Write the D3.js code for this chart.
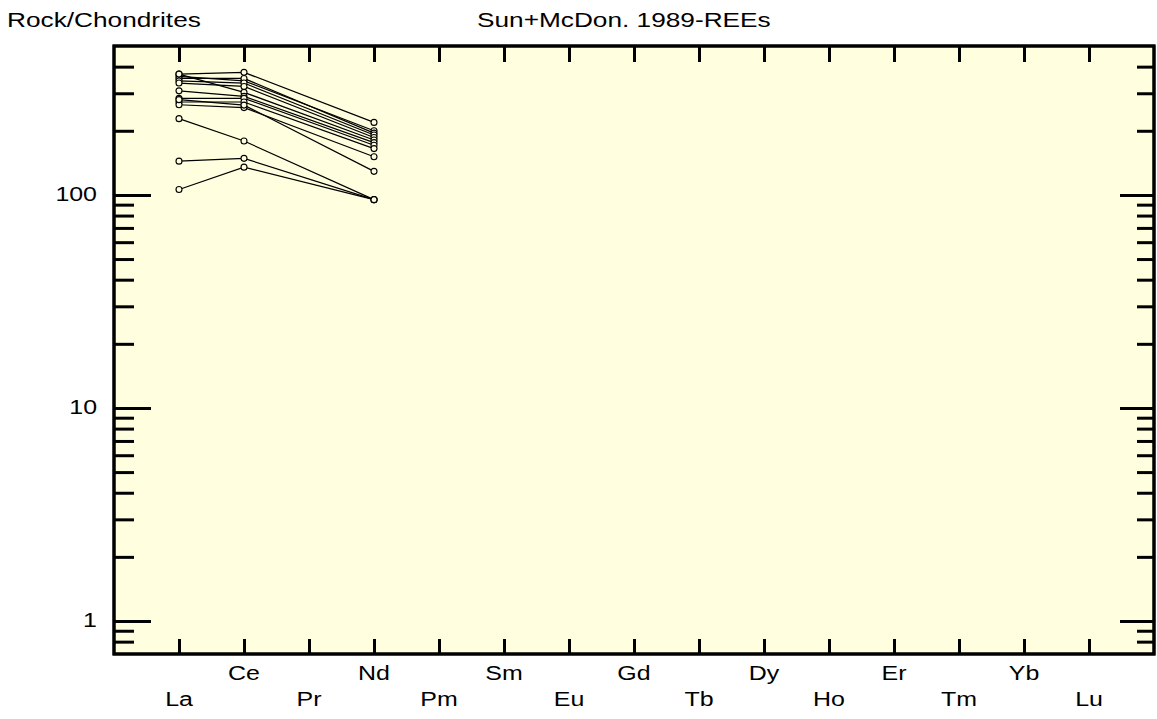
<!DOCTYPE html>
<html>
<meta charset="utf-8">
<style>
  body { margin: 0; background: #fff; }
  svg text { font-family: "Liberation Sans", Arial, sans-serif; fill: #000; }
  .frame { fill: #ffffe0; stroke: #000; stroke-width: 3; }
  .tick line { stroke: #000; stroke-width: 3; }
  .series { fill: none; stroke: #000; stroke-width: 1.2; }
  .dot { fill: #ffffe0; stroke: #000; stroke-width: 1.1; }
</style>
<body>
<script src="https://cdn.jsdelivr.net/npm/d3@7"></script>
<script>
// REE order (chondrite normalised, Sun & McDonough 1989)
var elements = ["La","Ce","Pr","Nd","Pm","Sm","Eu","Gd","Tb","Dy","Ho","Er","Tm","Yb","Lu"];

// only La, Ce, Nd were measured
var measured = ["La","Ce","Nd"];

// one row per sample: [La, Ce, Nd] rock/chondrite
var samples = [
  [369, 376, 219],
  [360, 343, 200],
  [352, 352, 195],
  [343, 335, 191],
  [335, 323, 186],
  [369, 303, 181],
  [308, 290, 176],
  [284, 284, 171],
  [273, 273, 165],
  [265, 257, 151],
  [280, 264, 129],
  [228, 179, 95],
  [144, 148.5, 95],
  [106, 135, 95]
];

var yLabels = [1, 10, 100];

var width = 1157, height = 719;
// plot box (note: "top" is reserved on window, so use a box object)
var box = {l: 114, r: 1154, t: 46, b: 654};
var stretch = 1.28;

var svg = d3.select("body").append("svg")
    .attr("width", width)
    .attr("height", height);

var x = d3.scaleLinear().domain([-1, 15]).range([box.l, box.r]);
var y = d3.scaleLog().domain([0.7, 500]).range([box.b, box.t]);

svg.append("rect")
    .attr("class", "frame")
    .attr("x", box.l).attr("y", box.t)
    .attr("width", box.r - box.l).attr("height", box.b - box.t);

function label(xp, yp, txt, size, anchor) {
  svg.append("text")
      .attr("transform", "translate(" + xp + "," + yp + ") scale(" + stretch + ",1)")
      .attr("text-anchor", anchor)
      .style("font-size", size + "px")
      .text(txt);
}

// y ticks, minor and major, both sides
var minor = y.ticks().filter(function(v) { return yLabels.indexOf(v) < 0 && v > 0.7 && v < 500; });

function yAxis(axisFn, xp, vals, size) {
  svg.append("g")
      .attr("transform", "translate(" + xp + ",0)")
      .call(axisFn(y).tickValues(vals).tickSize(size).tickFormat(""))
      .call(function(g) { g.select(".domain").remove(); });
}
yAxis(d3.axisRight, box.l, minor, 20);
yAxis(d3.axisRight, box.l, yLabels, 37);
yAxis(d3.axisLeft, box.r, minor, 17);
yAxis(d3.axisLeft, box.r, yLabels, 34);

// x ticks top and bottom
var idx = d3.range(elements.length);
svg.append("g")
    .attr("transform", "translate(0," + box.b + ")")
    .call(d3.axisTop(x).tickValues(idx).tickSize(15).tickFormat(""))
    .call(function(g) { g.select(".domain").remove(); });
svg.append("g")
    .attr("transform", "translate(0," + box.t + ")")
    .call(d3.axisBottom(x).tickValues(idx).tickSize(16).tickFormat(""))
    .call(function(g) { g.select(".domain").remove(); });

// redraw frame border over the ticks
svg.append("rect")
    .attr("x", box.l).attr("y", box.t)
    .attr("width", box.r - box.l).attr("height", box.b - box.t)
    .style("fill", "none").style("stroke", "#000").style("stroke-width", 3);

// labels
yLabels.forEach(function(v) {
  label(97, y(v) + 6, v, 19.5, "end");
});
elements.forEach(function(el, i) {
  label(x(i), i % 2 ? 680 : 706, el, 19.5, "middle");
});
label(7, 27, "Rock/Chondrites", 20.5, "start");
label(477, 27, "Sun+McDon. 1989-REEs", 20.5, "start");

// sample lines
var line = d3.line()
    .x(function(d, i) { return x(elements.indexOf(measured[i])); })
    .y(function(d) { return y(d); });

var g = svg.append("g");
g.selectAll("path")
    .data(samples)
  .enter().append("path")
    .attr("class", "series")
    .attr("d", line);

samples.forEach(function(s) {
  g.selectAll(null)
      .data(s)
    .enter().append("circle")
      .attr("class", "dot")
      .attr("cx", function(d, i) { return x(elements.indexOf(measured[i])); })
      .attr("cy", function(d) { return y(d); })
      .attr("r", 3);
});
</script>
</body>
</html>
